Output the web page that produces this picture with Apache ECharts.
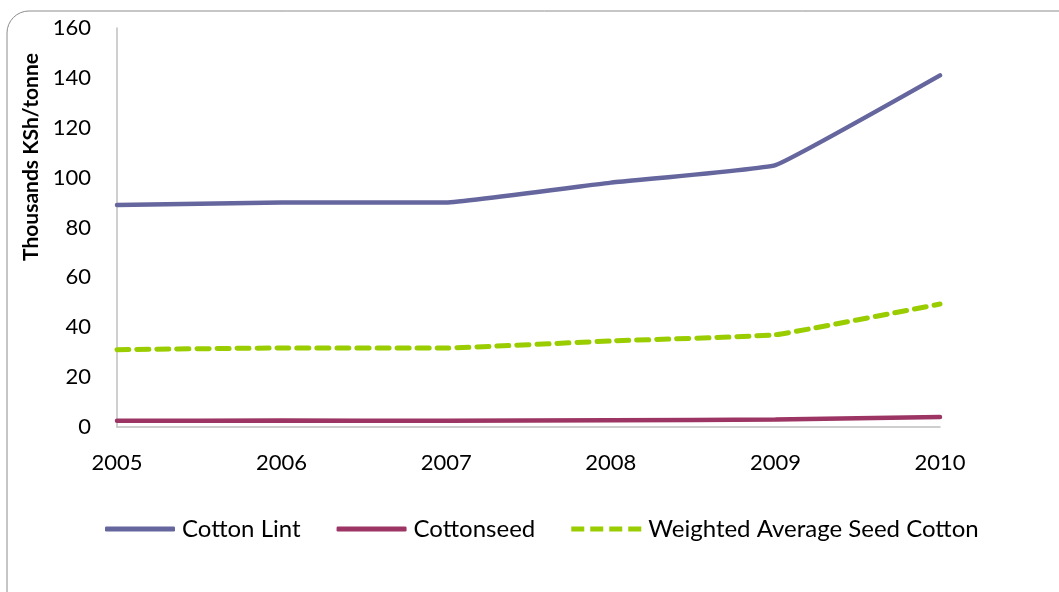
<!DOCTYPE html>
<html>
<head>
<meta charset="utf-8">
<script src="https://cdn.jsdelivr.net/npm/echarts@6/dist/echarts.min.js"></script>
<style>
html,body{margin:0;padding:0;background:#fff;}
#c{width:1059px;height:592px;}
</style>
</head>
<body>
<div id="c"></div>
<script>
const years = ['2005','2006','2007','2008','2009','2010'];
const cottonLint = [89, 90, 90, 98, 105, 141];
const cottonseed = [2.5, 2.6, 2.5, 2.7, 3.0, 4.0];
const weightedSeedCotton = [31, 31.7, 31.7, 34.5, 37, 49.3];
const yTicks = {min: 0, max: 160, interval: 20};

const FONT = 'Lato, "Open Sans", sans-serif';
const DASH_ICON = 'path://M0,0h13v5h-13z M19,0h13v5h-13z M38,0h13v5h-13z M57,0h13v5h-13z';
const chart = echarts.init(document.getElementById('c'), null, {renderer: 'canvas'});
chart.setOption({
  backgroundColor: '#fff',
  animation: false,
  graphic: [
    {type: 'rect', silent: true, z: -1,
     shape: {x: 7, y: 11, width: 1080, height: 620, r: 22},
     style: {fill: 'none', stroke: '#8c8c8c', lineWidth: 1}},
    {type: 'text', x: 31, y: 157, rotation: Math.PI / 2,
     style: {text: 'Thousands KSh/tonne', font: 'bold 21px ' + FONT, fill: '#000',
             align: 'center', verticalAlign: 'middle'}}
  ],
  grid: {left: 117, right: 119, top: 28, bottom: 165, containLabel: false},
  legend: {
    bottom: 46, left: 100, itemWidth: 70, itemHeight: 5, itemGap: 36,
    textStyle: {fontFamily: FONT, fontSize: 24, color: '#000', padding: [0, 0, 0, 2]},
    data: [
      {name: 'Cotton Lint', icon: 'roundRect'},
      {name: 'Cottonseed', icon: 'roundRect'},
      {name: 'Weighted Average Seed Cotton', icon: DASH_ICON}
    ]
  },
  xAxis: {
    type: 'category', data: years, boundaryGap: false,
    axisLine: {lineStyle: {color: '#bfbfbf', width: 1.5}},
    axisTick: {show: false},
    axisLabel: {fontFamily: FONT, fontSize: 22, color: '#000', margin: 25}
  },
  yAxis: {
    type: 'value', min: yTicks.min, max: yTicks.max, interval: yTicks.interval,
    axisLine: {show: true, lineStyle: {color: '#bfbfbf', width: 1.5}},
    axisTick: {show: false},
    splitLine: {show: false},
    axisLabel: {fontFamily: FONT, fontSize: 22, color: '#000', margin: 26}
  },
  series: [
    {name: 'Cotton Lint', type: 'line', data: cottonLint, smooth: 0.08, symbol: 'none',
     color: '#66669E', lineStyle: {width: 4.5, color: '#66669E', cap: 'round'}},
    {name: 'Cottonseed', type: 'line', data: cottonseed, smooth: 0.08, symbol: 'none',
     color: '#9C3563', lineStyle: {width: 4.5, color: '#9C3563', cap: 'round'}},
    {name: 'Weighted Average Seed Cotton', type: 'line', data: weightedSeedCotton, smooth: 0.1,
     symbol: 'none', color: '#9ACD00',
     lineStyle: {width: 5, color: '#9ACD00', type: [12, 8], cap: 'round'}}
  ]
});
</script>
</body>
</html>
